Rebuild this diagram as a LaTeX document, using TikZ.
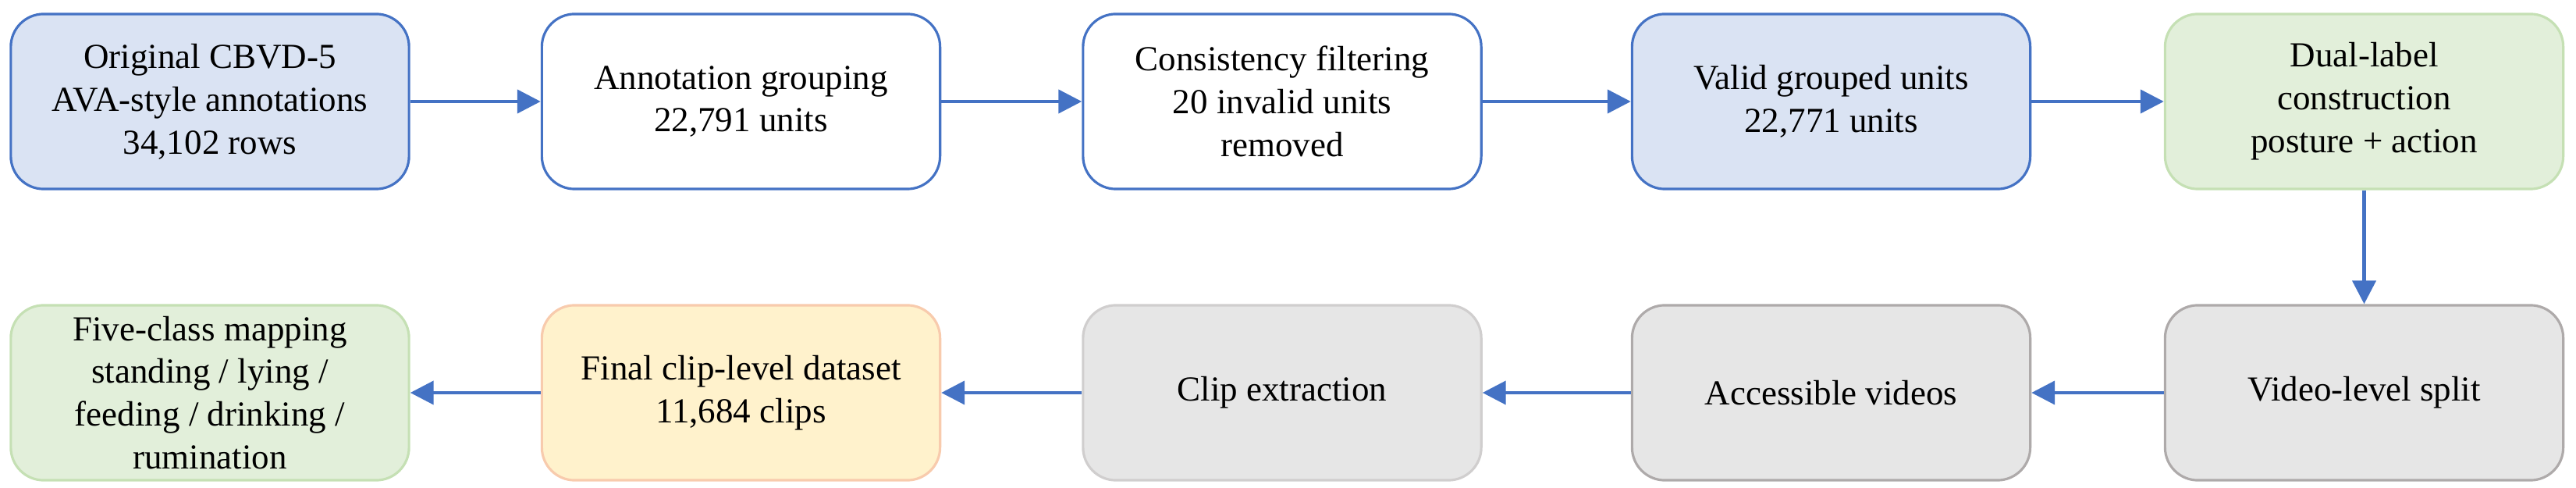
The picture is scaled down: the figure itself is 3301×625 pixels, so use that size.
\documentclass[tikz,border=0pt]{standalone}
\usepackage{fontspec}
\setmainfont{Liberation Serif}
\usetikzlibrary{arrows.meta}
\definecolor{bdblue}{HTML}{4472C4}
\definecolor{fillblue}{HTML}{DAE3F3}
\definecolor{fillgreen}{HTML}{E2EFDA}
\definecolor{bdgreen}{HTML}{C5E0B4}
\definecolor{fillyellow}{HTML}{FFF2CC}
\definecolor{bdpeach}{HTML}{F8CBAD}
\definecolor{fillgray}{HTML}{E6E6E6}
\definecolor{bdgraydark}{HTML}{AEAAAA}
\definecolor{bdgraylight}{HTML}{D0CECE}
\tikzset{
  box/.style={rectangle, rounded corners=0.42cm, line width=0.9pt,
    minimum width=5.1cm, minimum height=2.24cm, align=center, inner sep=2pt,
    font=\fontsize{12.8}{15.6}\selectfont},
  bluebox/.style={box, draw=bdblue, fill=fillblue},
  whitebox/.style={box, draw=bdblue, fill=white},
  greenbox/.style={box, draw=bdgreen, fill=fillgreen},
  yellowbox/.style={box, draw=bdpeach, fill=fillyellow},
  graybox/.style={box, draw=bdgraydark, fill=fillgray},
  lgraybox/.style={box, draw=bdgraylight, fill=fillgray},
  conn/.style={draw=bdblue, line width=1.2pt, -{Triangle[length=8.5pt,width=8.5pt]}}
}
\begin{document}
\begin{tikzpicture}[x=0.01cm,y=-0.01cm]
\useasboundingbox (0,0) rectangle (3301,625);
\node[bluebox]  (a1) at (269,130)  {Original CBVD-5\\AVA-style annotations\\34,102 rows};
\node[whitebox] (a2) at (949.5,130) {Annotation grouping\\22,791 units};
\node[whitebox] (a3) at (1643,130) {Consistency filtering\\20 invalid units\\removed};
\node[bluebox]  (a4) at (2346.5,130) {Valid grouped units\\22,771 units};
\node[greenbox] (a5) at (3029.5,130) {Dual-label\\construction\\posture + action};
\node[greenbox] (b1) at (269,503)  {Five-class mapping\\standing / lying /\\feeding / drinking /\\rumination};
\node[yellowbox](b2) at (949.5,503) {Final clip-level dataset\\11,684 clips};
\node[lgraybox] (b3) at (1643,503) {Clip extraction};
\node[graybox]  (b4) at (2346.5,503) {Accessible videos};
\node[graybox]  (b5) at (3029.5,503) {Video-level split};
\draw[conn] (a1) -- (a2);
\draw[conn] (a2) -- (a3);
\draw[conn] (a3) -- (a4);
\draw[conn] (a4) -- (a5);
\draw[conn] (a5) -- (b5);
\draw[conn] (b5) -- (b4);
\draw[conn] (b4) -- (b3);
\draw[conn] (b3) -- (b2);
\draw[conn] (b2) -- (b1);
\end{tikzpicture}
\end{document}
